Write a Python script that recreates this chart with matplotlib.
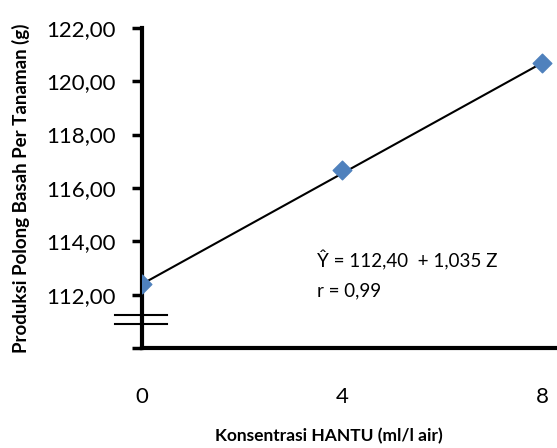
import numpy as np
import matplotlib.pyplot as plt
from matplotlib.ticker import FuncFormatter

plt.rcParams["font.family"] = ["Lato", "DejaVu Sans"]

# data
konsentrasi = [0, 4, 8]
produksi = [112.40, 116.67, 120.67]
intercept = 112.40
slope = 1.035
y_ticks = [110, 112, 114, 116, 118, 120, 122]
x_ticks = [0, 4, 8]
break_levels = [111.25, 110.92]


def comma_fmt(v, pos):
    if v < 111:
        return ""
    return f"{v:.2f}".replace(".", ",")


def main():
    fig = plt.figure(figsize=(5.57, 4.48), dpi=100)
    ax = fig.add_axes([0.255, 0.223, 0.745, 0.715])

    x = np.array(konsentrasi)
    ax.plot(x, intercept + slope * x, color="black", lw=1.5, zorder=2)
    ax.scatter(konsentrasi, produksi, marker="D", s=90, color="#4F81BD", zorder=3)

    # axis break marks
    for lev in break_levels:
        ax.plot([-0.54, 0.5], [lev, lev], color="black", lw=1.5, clip_on=False, zorder=4)

    ax.set_xlim(0, 8.3)
    ax.set_ylim(110, 122)
    ax.set_yticks(y_ticks)
    ax.yaxis.set_major_formatter(FuncFormatter(comma_fmt))
    ax.set_xticks(x_ticks)
    ax.set_xticklabels([str(t) for t in x_ticks])

    for side in ["top", "right"]:
        ax.spines[side].set_visible(False)
    for side in ["left", "bottom"]:
        ax.spines[side].set_linewidth(3)

    ax.tick_params(axis="y", direction="out", length=7, width=2.5, pad=12, labelsize=16)
    ax.tick_params(axis="x", length=0, pad=28, labelsize=16)
    ax.set_xticks([0], minor=True)
    ax.tick_params(axis="x", which="minor", direction="out", length=6, width=1, color="gray")

    ax.set_ylabel("Produksi Polong Basah Per Tanaman (g)", fontsize=13.5,
                  fontweight="bold")
    ax.yaxis.set_label_coords(-0.27, 0.5)
    ax.set_xlabel("Konsentrasi HANTU (ml/l air)", fontsize=12.5, fontweight="bold")
    ax.xaxis.set_label_coords(0.45, -0.25)

    ax.text(3.5, 113.27, "Ŷ = 112,40  + 1,035 Z", fontsize=13.5, va="center")
    ax.text(3.5, 112.15, "r = 0,99", fontsize=13.5, va="center")

    fig.savefig("out.png", dpi=100)


if __name__ == "__main__":
    main()
